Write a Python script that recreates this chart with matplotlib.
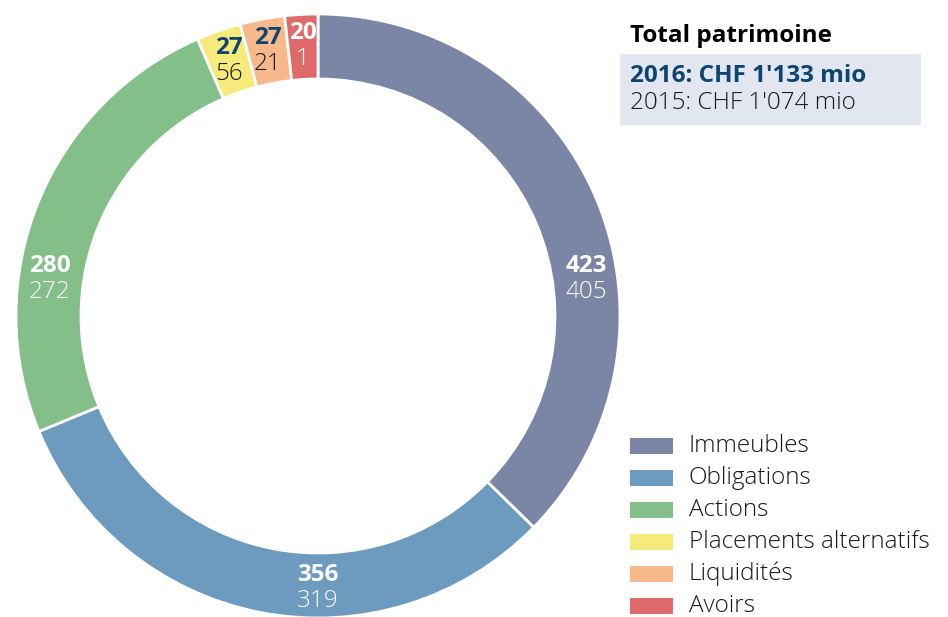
import matplotlib
matplotlib.use("Agg")
import matplotlib.pyplot as plt
from matplotlib.patches import Rectangle
import numpy as np

# data
categories = ["Immeubles", "Obligations", "Actions", "Placements alternatifs",
              "Liquidités", "Avoirs"]
values_2016 = [423, 356, 280, 27, 27, 20]
values_2015 = [405, 319, 272, 56, 21, 1]
colors = ["#7b86a6", "#6c9bbf", "#84bf8a", "#f6ea7a", "#f7b98a", "#e06a6a"]
dark_labels = [False, False, False, True, True, False]
# label angle (deg); None -> middle of the wedge
label_angles = [8, -90, 172, None, None, None]

title = "Total patrimoine"
total_2016 = "2016: CHF 1'133 mio"
total_2015 = "2015: CHF 1'074 mio"

navy = "#0e4470"
W, H = 948, 617
FONT = "Open Sans"
FS = 17.5

fig = plt.figure(figsize=(W / 100, H / 100), dpi=100)
ax = fig.add_axes([0, 0, 1, 1])

cx, cy = 318, H - 316
r_out, ring = 302, 65
wedges, _ = ax.pie(values_2016, colors=colors, startangle=90, counterclock=False,
                   radius=r_out, center=(cx, cy),
                   wedgeprops=dict(width=ring, edgecolor="white", linewidth=2))
ax.set_xlim(0, W)
ax.set_ylim(0, H)
ax.set_aspect("equal")
ax.axis("off")

# labels in the ring
r_lab = 271
for w, v16, v15, dark, la in zip(wedges, values_2016, values_2015,
                                 dark_labels, label_angles):
    a = (w.theta1 + w.theta2) / 2 if la is None else la
    ang = np.deg2rad(a)
    x = cx + r_lab * np.cos(ang)
    y = cy + r_lab * np.sin(ang)
    c1 = navy if dark else "white"
    c2 = "#1a1a1a" if dark else "white"
    ax.text(x, y + 12, str(v16), ha="center", va="center", fontsize=FS,
            fontweight="bold", color=c1, family=FONT)
    ax.text(x, y - 14, str(v15), ha="center", va="center", fontsize=FS,
            fontweight="light", color=c2, family=FONT)

# total box
ax.text(630, H - 36, title, ha="left", va="center", fontsize=FS,
        fontweight="bold", color="black", family=FONT)
ax.add_patch(Rectangle((620, H - 125), 301, 71, facecolor="#e1e6f0",
                       edgecolor="none"))
ax.text(630, H - 76, total_2016, ha="left", va="center", fontsize=FS,
        fontweight="bold", color=navy, family=FONT)
ax.text(630, H - 103, total_2015, ha="left", va="center", fontsize=FS,
        fontweight="light", color="#1a1a1a", family=FONT)

# legend
for i, (name, col) in enumerate(zip(categories, colors)):
    y = H - (446 + 32 * i)
    ax.add_patch(Rectangle((630, y - 8), 43, 16, facecolor=col, edgecolor="none"))
    ax.text(689, y, name, ha="left", va="center", fontsize=FS,
            fontweight="light", color="#1a1a1a", family=FONT)

fig.savefig("out.png", dpi=100)
